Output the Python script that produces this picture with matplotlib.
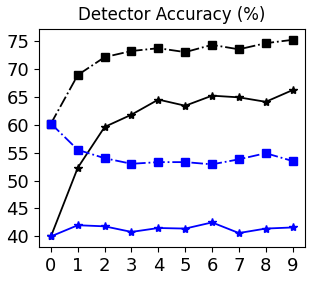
import matplotlib
matplotlib.use('Agg')
import matplotlib.pyplot as plt
import numpy as np

steps = np.arange(10)
black_sq = [60.2, 68.9, 72.1, 73.2, 73.7, 73.0, 74.3, 73.5, 74.6, 75.2]
black_star = [40.0, 52.3, 59.6, 61.8, 64.5, 63.4, 65.2, 64.9, 64.1, 66.2]
blue_sq = [60.2, 55.5, 54.0, 53.0, 53.3, 53.3, 52.9, 53.8, 54.9, 53.5]
blue_star = [40.0, 42.0, 41.8, 40.8, 41.5, 41.4, 42.5, 40.6, 41.4, 41.6]

fig = plt.figure(figsize=(3.16, 2.81), dpi=100)
ax = fig.add_axes([0.123, 0.121, 0.842, 0.777])

ax.plot(steps, black_sq, color='black', linestyle='-.', marker='s', markersize=5.5, linewidth=1.3)
ax.plot(steps, black_star, color='black', linestyle='-', marker='*', markersize=6, linewidth=1.3)
ax.plot(steps, blue_sq, color='blue', linestyle='-.', marker='s', markersize=5.5, linewidth=1.3)
ax.plot(steps, blue_star, color='blue', linestyle='-', marker='*', markersize=6, linewidth=1.3)

ax.set_title('Detector Accuracy (%)', fontsize=12)
ax.set_xticks(steps)
ax.set_yticks([40, 45, 50, 55, 60, 65, 70, 75])
ax.set_ylim(38.1, 77.2)
ax.set_xlim(-0.45, 9.46)
ax.tick_params(labelsize=13)

plt.savefig('out.png', dpi=100)
